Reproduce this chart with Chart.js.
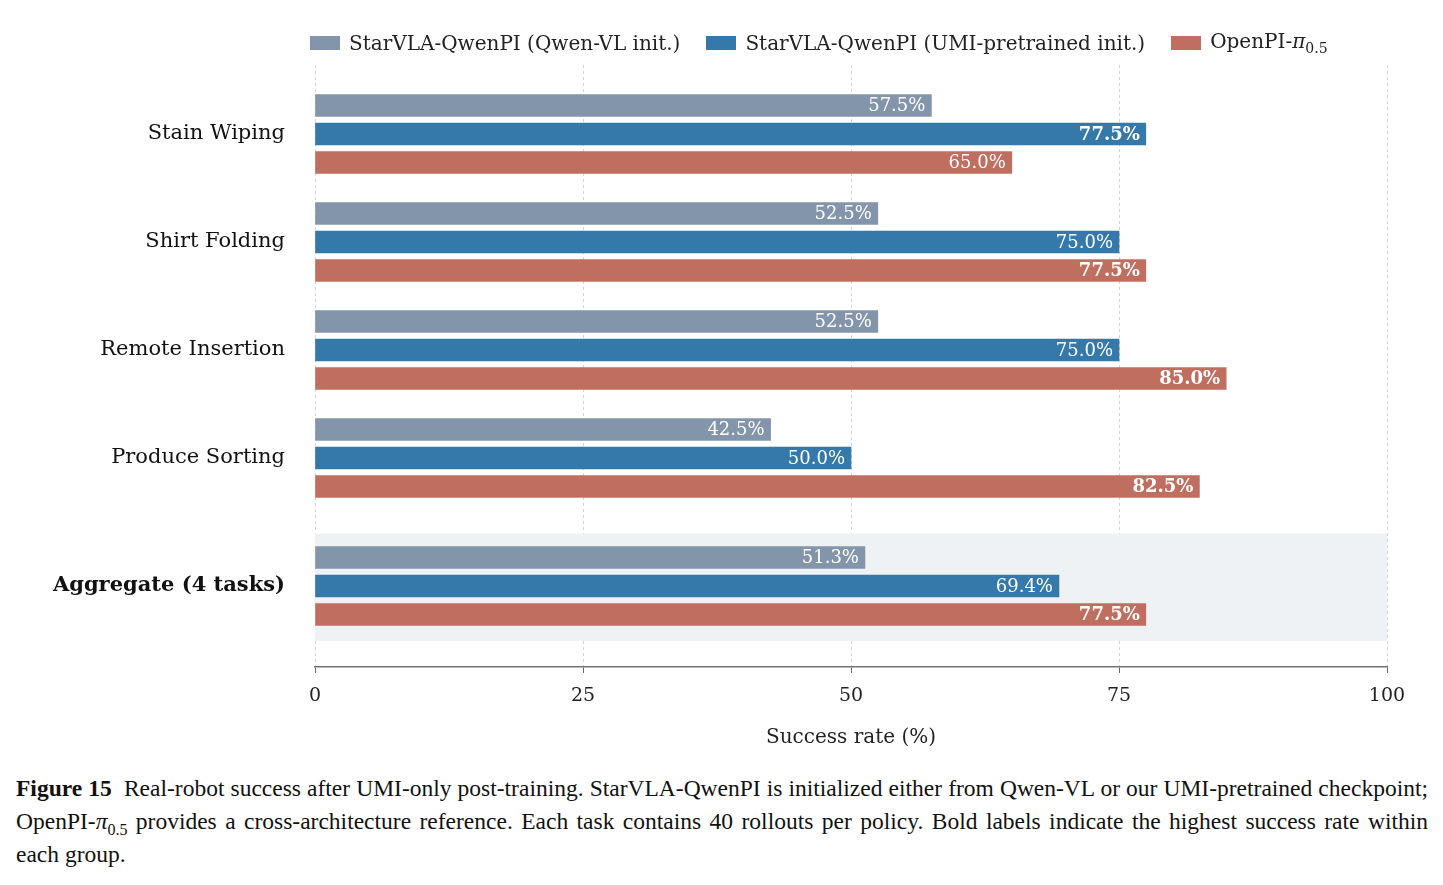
<!DOCTYPE html>
<html>
<head>
<meta charset="utf-8">
<script src="https://cdn.jsdelivr.net/npm/chart.js@4"></script>
<style>
body { margin:0; background:#fff; font-family:"DejaVu Serif", serif; }
#wrap { position:relative; width:1443px; height:885px; }
#legend { position:absolute; top:29px; left:310px; font-size:20px; color:#222; display:flex; }
#legend span.item { display:flex; align-items:center; margin-right:26px; white-space:nowrap; }
#legend span.box { display:inline-block; width:30px; height:14px; margin-right:9px; }
#chartBox { position:absolute; top:0; left:0; width:1443px; height:760px; }
#caption { position:absolute; top:772px; left:16px; width:1412px; font-family:"Liberation Serif", serif; font-size:23.5px; line-height:33px; color:#111; text-align:justify; }
</style>
</head>
<body>
<div id="wrap">
  <div id="chartBox"><canvas id="chart"></canvas></div>
  <div id="legend"></div>
  <div id="caption"><b>Figure 15</b>&nbsp; Real-robot success after UMI-only post-training. StarVLA-QwenPI is initialized either from Qwen-VL or our UMI-pretrained checkpoint; OpenPI-<i>π</i><sub style="font-size:16px; line-height:0">0.5</sub> provides a cross-architecture reference. Each task contains 40 rollouts per policy. Bold labels indicate the highest success rate within each group.</div>
</div>
<script>
// Daten
let tasks = ["Stain Wiping", "Shirt Folding", "Remote Insertion", "Produce Sorting", "Aggregate (4 tasks)"];
let taskPos = [0, 1, 2, 3, 4.185]; // Aggregat etwas abgesetzt
let qwenVL = [57.5, 52.5, 52.5, 42.5, 51.3];
let umiInit = [77.5, 75.0, 75.0, 50.0, 69.4];
let openPI = [65.0, 77.5, 85.0, 82.5, 77.5];
let xTicks = [0, 25, 50, 75, 100];

let seriesNames = ["StarVLA-QwenPI (Qwen-VL init.)", "StarVLA-QwenPI (UMI-pretrained init.)", "OpenPI-<em>π</em><sub style='font-size:14px'>0.5</sub>"];
let colors = ["#8395aa", "#3578aa", "#bf6e60"];
let offsets = [-0.264, 0, 0.264];
let allSeries = [qwenVL, umiInit, openPI];

// Legende als HTML (wegen Subscript)
let leg = "";
seriesNames.forEach(function (name, i) {
    leg += "<span class='item'><span class='box' style='background:" + colors[i] + "'></span><span>" + name + "</span></span>";
});
document.getElementById("legend").innerHTML = leg;

const SERIF = "'DejaVu Serif', serif";

const datasets = allSeries.map(function (vals, s) {
    return {
        label: "s" + s,
        backgroundColor: colors[s],
        data: vals.map(function (v, i) { return { x: v, y: taskPos[i] + offsets[s] }; }),
        barThickness: 22,
        grouped: false
    };
});

// Hintergrund für Aggregat
const aggBg = {
    id: "aggBg",
    beforeDatasetsDraw(chart) {
        const { ctx, chartArea, scales } = chart;
        const y1 = scales.y.getPixelForValue(3.70), y2 = scales.y.getPixelForValue(4.694);
        ctx.save();
        ctx.fillStyle = "#eff2f5";
        ctx.fillRect(chartArea.left, y1, chartArea.right - chartArea.left, y2 - y1);
        ctx.restore();
    }
};

// Werte in den Balken
const barLabels = {
    id: "barLabels",
    afterDatasetsDraw(chart) {
        const ctx = chart.ctx;
        ctx.save();
        ctx.fillStyle = "#fff";
        ctx.textAlign = "right";
        ctx.textBaseline = "middle";
        chart.data.datasets.forEach(function (ds, s) {
            chart.getDatasetMeta(s).data.forEach(function (bar, i) {
                const v = allSeries[s][i];
                const best = Math.max(qwenVL[i], umiInit[i], openPI[i]);
                ctx.font = (v === best ? "bold " : "") + "18px " + SERIF;
                ctx.fillText(v.toFixed(1) + "%", bar.x - 6, bar.y + 1);
            });
        });
        ctx.restore();
    }
};

new Chart(document.getElementById("chart"), {
    type: "bar",
    data: { datasets: datasets },
    plugins: [aggBg, barLabels],
    options: {
        indexAxis: "y",
        responsive: true,
        maintainAspectRatio: false,
        animation: false,
        layout: { padding: { top: 65, right: 56, left: 0, bottom: 10 } },
        plugins: { legend: { display: false }, tooltip: { enabled: false } },
        scales: {
            x: {
                type: "linear", min: 0, max: 100,
                afterBuildTicks(scale) { scale.ticks = xTicks.map(function (v) { return { value: v }; }); },
                afterFit(scale) { scale.height = 83; },
                grid: { color: "#d4d4d4", tickColor: "#666", tickLength: 6 },
                border: { color: "#6b7480", width: 1.5, dash: [3, 3] },
                ticks: { color: "#222", font: { family: SERIF, size: 19 }, padding: 12 },
                title: { display: true, text: "Success rate (%)", color: "#222", font: { family: SERIF, size: 20 }, padding: 0 }
            },
            y: {
                type: "linear", min: -0.639, max: 4.935, reverse: true, offset: false,
                afterBuildTicks(scale) { scale.ticks = taskPos.map(function (v) { return { value: v }; }); },
                afterFit(scale) { scale.width = 315; },
                grid: { display: false },
                border: { display: false },
                ticks: {
                    color: "#111", padding: 22, autoSkip: false,
                    font: function (c) {
                        const idx = taskPos.indexOf(c.tick ? c.tick.value : -1);
                        return { family: SERIF, size: 21, weight: idx === 4 ? "bold" : "normal" };
                    },
                    callback: function (v) { const i = taskPos.indexOf(v); return i >= 0 ? tasks[i] : ""; }
                }
            }
        }
    }
});
</script>
</body>
</html>
